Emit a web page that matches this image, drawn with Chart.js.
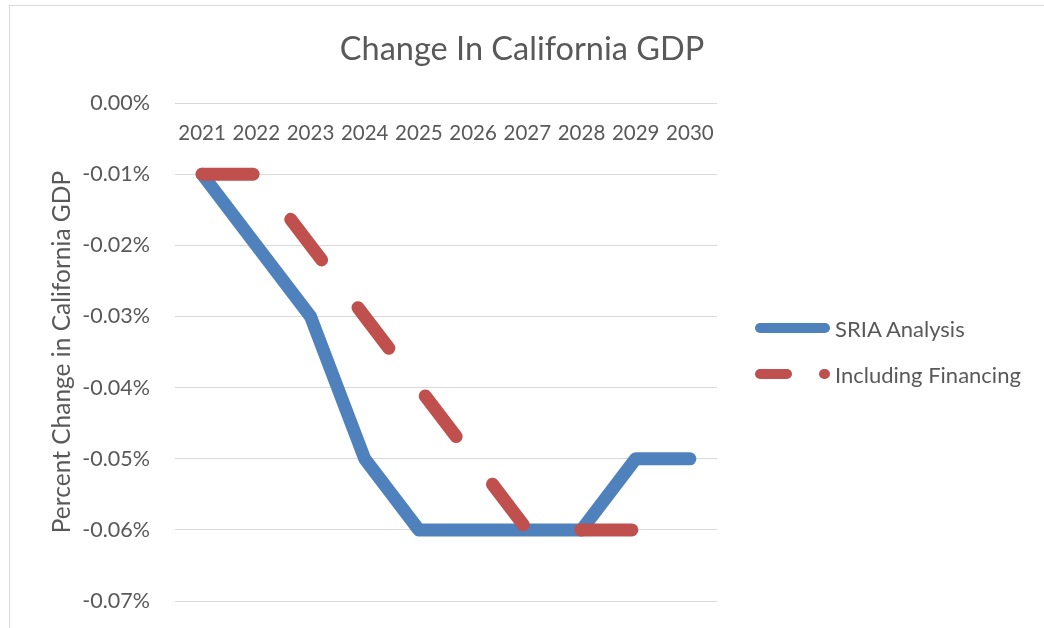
<!DOCTYPE html>
<html>
<head>
<meta charset="utf-8">
<script src="https://cdn.jsdelivr.net/npm/chart.js@4"></script>
<style>
  body { margin: 0; background: #fff; }
  #wrap { position: relative; width: 1044px; height: 628px; overflow: hidden; font-family: "Lato", sans-serif; }
  #frame { position: absolute; left: 9px; top: 5px; width: 1100px; height: 700px; border: 1px solid #d9d9d9; }
  #box { position: absolute; left: 0; top: 0; width: 1044px; height: 639px; }
  #legend { position: absolute; left: 755px; top: 305px; color: #595959; font-size: 22px; }
  #legend .row { display: flex; align-items: center; height: 46px; }
  #legend svg { margin-right: 5px; }
</style>
</head>
<body>
<div id="wrap">
  <div id="frame"></div>
  <div id="box"><canvas id="myChart"></canvas></div>
  <div id="legend"></div>
</div>
<script>
// values are in percent, e.g. -0.01 means -0.01%
const years = ["2021", "2022", "2023", "2024", "2025", "2026", "2027", "2028", "2029", "2030"];
const sriaAnalysis = [-0.01, -0.02, -0.03, -0.05, -0.06, -0.06, -0.06, -0.06, -0.05, -0.05];
const includingFinancing = [-0.01, -0.01, -0.02, -0.03, -0.04, -0.05, -0.06, -0.06, -0.06, null];
const seriesNames = ["SRIA Analysis", "Including Financing"];
const seriesColors = ["#4f81bd", "#c0504d"];
const legendDash = ["", "27 37 1 100"];

const grey = "#595959";

const ctx = document.getElementById("myChart");
const myChart = new Chart(ctx, {
  type: "line",
  data: {
    labels: years,
    datasets: [
      {
        label: seriesNames[0],
        data: sriaAnalysis,
        borderColor: seriesColors[0],
        borderWidth: 13,
        borderCapStyle: "round",
        borderJoinStyle: "round",
        pointRadius: 0,
        order: 1,
      },
      {
        // order 0 so the dashed line is painted over the blue one
        label: seriesNames[1],
        data: includingFinancing,
        borderColor: seriesColors[1],
        borderWidth: 13,
        borderDash: [51, 60],
        borderCapStyle: "round",
        borderJoinStyle: "round",
        pointRadius: 0,
        order: 0,
      },
    ],
  },
  options: {
    responsive: true,
    maintainAspectRatio: false,
    animation: false,
    layout: {
      padding: { left: 0, right: 0, top: 0, bottom: 27 },
    },
    plugins: {
      legend: { display: false },
      tooltip: { enabled: false },
      title: {
        display: true,
        text: "Change In California GDP",
        color: grey,
        font: { family: "Lato", size: 32.5, weight: "normal" },
        padding: { top: 30, bottom: 34 },
      },
    },
    scales: {
      x: {
        position: { y: 0 },
        offset: true,
        grid: { display: false, drawTicks: false },
        border: { display: false },
        ticks: {
          color: grey,
          font: { family: "Lato", size: 20.5 },
          padding: 18,
          maxRotation: 0,
          autoSkip: false,
        },
        // labels sit inside the plot, so take no room at the bottom
        afterFit: (scale) => {
          scale.height = 0;
        },
      },
      y: {
        min: -0.07,
        max: 0,
        grid: { color: "#d9d9d9", drawTicks: false },
        border: { display: false },
        ticks: {
          stepSize: 0.01,
          color: grey,
          font: { family: "Lato", size: 21.5 },
          padding: 25,
          callback: (v) => v.toFixed(2) + "%",
        },
        title: {
          display: true,
          text: "Percent Change in California GDP",
          color: grey,
          font: { family: "Lato", size: 24.5 },
          padding: { top: 47, bottom: 0 },
        },
        afterFit: (scale) => {
          scale.width = 175;
        },
      },
      // empty axis that keeps room on the right for the legend
      legendSpace: {
        type: "linear",
        position: "right",
        grid: { display: false },
        border: { display: false },
        ticks: { display: false },
        afterFit: (scale) => {
          scale.width = 327;
        },
      },
    },
  },
});

// legend drawn as html, lines as small svg samples
const legendEl = document.getElementById("legend");
seriesNames.forEach((name, i) => {
  const row = document.createElement("div");
  row.className = "row";
  row.innerHTML =
    '<svg width="75" height="12"><line x1="5" y1="6" x2="70" y2="6" stroke="' + seriesColors[i] +
    '" stroke-width="10" stroke-linecap="round" stroke-dasharray="' + legendDash[i] + '"/></svg>' +
    "<span>" + name + "</span>";
  legendEl.appendChild(row);
});
</script>
</body>
</html>
